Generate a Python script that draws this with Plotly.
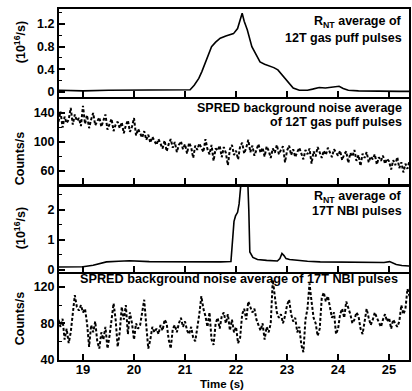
import numpy as np
import plotly.graph_objects as go

# R_NT average of 12T gas puff pulses (1e16/s)
t_gas = [18.52, 19.0, 19.5, 20.0, 20.5, 21.0, 21.1, 21.18, 21.27, 21.33, 21.39, 21.45,
         21.52, 21.6, 21.69, 21.8, 21.95, 22.03, 22.08, 22.12, 22.16, 22.22, 22.31, 22.4,
         22.47, 22.56, 22.66, 22.74, 22.82, 22.9, 22.98, 23.05, 23.12, 23.24, 23.4, 23.5,
         23.63, 23.75, 23.85, 24.02, 24.1, 24.2, 24.4, 24.8, 25.2, 25.4]
rnt_gas = [0.03, 0.02, 0.03, 0.03, 0.03, 0.03, 0.04, 0.12, 0.24, 0.36, 0.50, 0.62,
           0.80, 0.88, 0.95, 0.99, 1.03, 1.12, 1.30, 1.39, 1.25, 1.10, 0.80, 0.64,
           0.53, 0.49, 0.46, 0.43, 0.39, 0.30, 0.21, 0.13, 0.07, 0.03, 0.03, 0.05,
           0.08, 0.07, 0.08, 0.10, 0.06, 0.03, 0.02, 0.01, 0.01, 0.01]

# SPRED background noise, 12T gas puff pulses (counts/s), sampled every 0.04 s
noise_gas = [
    128, 142, 120, 135, 126, 131, 147, 124, 138, 129,
    133, 122, 150, 125, 137, 119, 131, 140, 123, 128,
    134, 121, 129, 138, 117, 126, 132, 115, 124, 128,
    119, 127, 112, 123, 130, 114, 121, 133, 109, 118,
    112, 106, 115, 103, 110, 99, 107, 101, 96, 104,
    98, 91, 102, 87, 97, 104, 92, 100, 86, 96,
    101, 90, 97, 84, 99, 93, 78, 95, 89, 98,
    92, 86, 104, 90, 83, 96, 74, 91, 88, 95,
    79, 93, 85, 68, 90, 96, 82, 88, 76, 94,
    99, 84, 92, 103, 86, 95, 81, 90, 97, 85,
    92, 80, 94, 88, 78, 91, 85, 96, 83, 89,
    94, 72, 88, 95, 82, 90, 79, 86, 92, 84,
    76, 89, 83, 91, 70, 87, 80, 93, 85, 78,
    88, 82, 92, 84, 79, 90, 86, 81, 88, 75,
    83, 87, 71, 85, 80, 89, 74, 82, 67, 84,
    78, 86, 72, 80, 76, 83, 69, 79, 74, 81,
    70, 77, 73, 62, 75, 68, 79, 64, 72, 58,
    70, 63, 74,
]

# R_NT average of 17T NBI pulses (1e16/s)
t_nbi = [18.52, 18.8, 19.0, 19.2, 19.46, 19.7, 19.91, 20.3, 20.8, 21.3, 21.7, 21.9,
         21.93, 21.96, 21.99, 22.03, 22.06, 22.08, 22.1, 22.15, 22.2, 22.23, 22.25,
         22.27, 22.33, 22.42, 22.6, 22.81, 22.86, 22.9, 22.94, 22.98, 23.05, 23.2,
         23.4, 23.65, 24.0, 24.23, 24.6, 24.9, 25.01, 25.08, 25.14, 25.25, 25.4]
rnt_nbi = [0.10, 0.10, 0.11, 0.16, 0.27, 0.29, 0.31, 0.28, 0.27, 0.27, 0.27, 0.28,
           1.10, 1.62, 1.80, 1.92, 2.20, 2.60, 2.95, 2.95, 2.95, 2.95, 2.00,
           0.60, 0.42, 0.35, 0.32, 0.30, 0.38, 0.55, 0.48, 0.38, 0.35, 0.32,
           0.29, 0.27, 0.26, 0.25, 0.24, 0.25, 0.28, 0.24, 0.18, 0.15, 0.13]

# SPRED background noise, 17T NBI pulses (counts/s), sampled every 0.04 s
noise_nbi = [
    84, 76, 85, 62, 74, 58, 70, 92, 111, 98,
    94, 100, 92, 96, 80, 54, 78, 70, 82, 60,
    52, 70, 62, 76, 52, 66, 88, 102, 84, 54,
    70, 98, 84, 100, 68, 92, 80, 62, 80, 74,
    78, 90, 106, 78, 52, 62, 76, 70, 74, 68,
    78, 72, 84, 80, 62, 52, 74, 78, 70, 80,
    86, 76, 82, 72, 68, 76, 64, 60, 74, 90,
    110, 96, 88, 76, 92, 62, 56, 80, 86, 74,
    88, 92, 80, 90, 72, 84, 70, 76, 58, 64,
    90, 96, 84, 104, 98, 92, 96, 84, 78, 72,
    80, 62, 76, 70, 80, 128, 110, 92, 86, 90,
    80, 88, 100, 106, 90, 82, 86, 70, 76, 56,
    48, 84, 96, 124, 104, 86, 80, 66, 74, 108,
    114, 104, 110, 96, 86, 92, 68, 74, 90, 96,
    86, 104, 98, 90, 80, 84, 92, 88, 74, 68,
    82, 96, 86, 78, 84, 92, 86, 80, 76, 84,
    90, 82, 86, 74, 84, 80, 76, 82, 100, 90,
    96, 118, 110,
]

t_noise_gas = np.linspace(18.52, 25.40, len(noise_gas))
t_noise_nbi = np.linspace(18.52, 25.40, len(noise_nbi))

x_ticks = [19, 20, 21, 22, 23, 24, 25]
x_range = [18.53, 25.39]

W, H = 412, 391
ML, MR, MT, MB = 59, 1, 9, 31
PH = H - MT - MB
PW = W - ML - MR


def py(px):
    """pixel row -> paper y"""
    return 1 - (px - MT) / PH


def pxx(px):
    """pixel column -> paper x"""
    return (px - ML) / PW


FONT = "Arial, Liberation Sans, Helvetica, sans-serif"

fig = go.Figure()
line_solid = dict(color="black", width=1.6)
line_dash = dict(color="black", width=2, dash="3px,2px")

fig.add_trace(go.Scatter(x=t_gas, y=rnt_gas, mode="lines", line=line_solid,
                         xaxis="x", yaxis="y", showlegend=False))
fig.add_trace(go.Scatter(x=t_noise_gas, y=noise_gas, mode="lines", line=line_dash,
                         xaxis="x2", yaxis="y2", showlegend=False))
fig.add_trace(go.Scatter(x=t_nbi, y=rnt_nbi, mode="lines", line=line_solid,
                         xaxis="x3", yaxis="y3", showlegend=False))
fig.add_trace(go.Scatter(x=t_noise_nbi, y=noise_nbi, mode="lines", line=line_dash,
                         xaxis="x4", yaxis="y4", showlegend=False))

domains = [
    [py(96.5), 1.0],
    [py(184), py(98.5)],
    [py(271.5), py(186.5)],
    [0.0, py(273.5)],
]
y_specs = [
    dict(range=[-0.08, 1.465], tickvals=[0, 0.4, 0.8, 1.2], ticktext=["0", "0.4", "0.8", "1.2"],
         minor=[0.2, 0.6, 1.0, 1.4]),
    dict(range=[42, 160], tickvals=[60, 100, 140], ticktext=["60", "100", "140"],
         minor=[80, 120]),
    dict(range=[-0.05, 2.78], tickvals=[0, 1, 2], ticktext=["0", "1", "2"],
         minor=[0.5, 1.5, 2.5]),
    dict(range=[39.4, 135], tickvals=[40, 80, 120], ticktext=["40", "80", "120"],
         minor=[60, 100]),
]

axis_common = dict(showline=True, linewidth=2, linecolor="black", mirror=True,
                   showgrid=False, zeroline=False, ticks="inside", tickwidth=1.5,
                   tickcolor="black")

layout = dict(
    width=W, height=H,
    margin=dict(l=ML, r=MR, t=MT, b=MB),
    paper_bgcolor="white", plot_bgcolor="white",
    font=dict(family=FONT, size=12.5, color="black", weight="bold"),
    showlegend=False,
)
for i in range(4):
    sfx = "" if i == 0 else str(i + 1)
    spec = y_specs[i]
    layout["yaxis" + sfx] = dict(
        axis_common, domain=domains[i], range=spec["range"], tickvals=spec["tickvals"],
        ticktext=spec["ticktext"], ticklen=6, anchor="x" + sfx,
        minor=dict(tickvals=spec["minor"], ticks="inside", ticklen=3, tickwidth=1.2,
                   tickcolor="black"),
        tickfont=dict(size=12.5),
    )
    layout["xaxis" + sfx] = dict(
        axis_common, range=x_range, tickvals=x_ticks, ticklen=6, anchor="y" + sfx,
        showticklabels=(i == 3), tickfont=dict(size=13), ticklabelstandoff=-4,
        matches=None if i == 0 else "x",
    )
fig.update_layout(**layout)

ann = []


def text(x, y, s, xanchor="right", size=12.5, angle=0):
    ann.append(dict(x=pxx(x), y=py(y), xref="paper", yref="paper", text=s,
                    showarrow=False, xanchor=xanchor, yanchor="middle",
                    textangle=angle, font=dict(size=size)))


text(406, 22, "R<sub>NT</sub> average of")
text(406, 38, "12T gas puff pulses")
text(406, 108, "SPRED background noise average")
text(406, 122, "of 12T gas puff pulses")
text(406, 197, "R<sub>NT</sub> average of")
text(406, 211, "17T NBI pulses")
text(78, 279, "SPRED background noise average of 17T NBI pulses", xanchor="left", size=12.7)

text(20, 42, "(10<sup>16</sup>/s)", xanchor="center", angle=-90)
text(20, 158, "Counts/s", xanchor="center", angle=-90)
text(20, 228, "(10<sup>16</sup>/s)", xanchor="center", angle=-90)
text(20, 318, "Counts/s", xanchor="center", angle=-90)
text(223, 384.5, "Time (s)", xanchor="center", size=11.5)
fig.update_layout(annotations=ann)

fig.write_html("out.html")
